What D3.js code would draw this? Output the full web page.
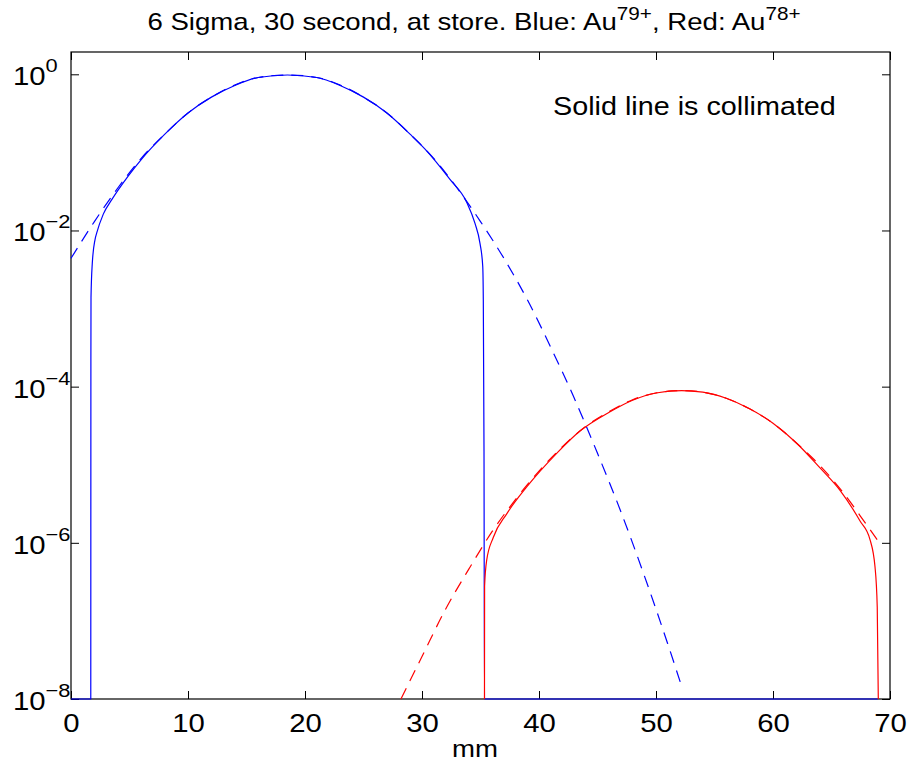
<!DOCTYPE html>
<html>
<head>
<meta charset="utf-8">
<script src="https://cdn.jsdelivr.net/npm/d3@7"></script>
<style>
  body { margin: 0; background: #fff; }
  text { font-family: "Liberation Sans", Arial, Helvetica, sans-serif; fill: #000; }
</style>
</head>
<body>
<script>

// values (x in mm, y on log scale)
var blueSolidX = [0, 1.69, 1.70, 1.71, 1.82, 2.05, 2.2, 2.76, 3.5, 4.9, 6, 8, 10, 12, 14, 16, 18.5, 21, 23, 25, 27, 29, 30.26, 32.39, 33.82, 34.53, 34.96, 35.19, 35.24, 35.30, 35.34, 68.95];
var blueSolidY = [1e-8, 1e-8, 2.2e-4, 1.4e-3, 3.8e-3, 7.6e-3, 9.3e-3, 1.62e-2, 2.5e-2, 5.0e-2, 8.1e-2, 0.17, 0.32, 0.51, 0.72, 0.91, 0.98, 0.91, 0.72, 0.51, 0.32, 0.17, 0.11, 4.5e-2, 2.3e-2, 1.23e-2, 6.8e-3, 3.5e-3, 1.3e-3, 1.5e-5, 1e-8, 1e-8];

var blueDashX = [0, 2, 4, 6, 8, 10, 12, 14, 16, 18.5, 21, 23, 25, 27, 29, 31, 33, 35, 37, 39, 41, 43, 45, 47, 49, 51, 52.1];
var blueDashY = [4.4e-3, 1.3e-2, 3.5e-2, 8.4e-2, 0.17, 0.32, 0.51, 0.73, 0.91, 0.98, 0.91, 0.73, 0.51, 0.32, 0.17, 8.4e-2, 3.5e-2, 1.3e-2, 4.4e-3, 1.3e-3, 3.2e-4, 7.2e-5, 1.4e-5, 2.5e-6, 3.8e-7, 5.1e-8, 1.6e-8];

var redSolidX = [35.34, 35.35, 35.53, 36.09, 37.24, 38.95, 41.51, 43.5, 46, 48, 50, 52.2, 54, 56, 58, 60, 62, 64.02, 65.73, 67.44, 68.29, 68.72, 68.91, 69.0];
var redSolidY = [1e-8, 2.8e-7, 6.0e-7, 1.17e-6, 2.35e-6, 5.2e-6, 1.4e-5, 2.7e-5, 4.7e-5, 6.7e-5, 8.3e-5, 8.9e-5, 8.5e-5, 7.1e-5, 5.2e-5, 3.4e-5, 1.9e-5, 9.1e-6, 4.7e-6, 1.9e-6, 1.1e-6, 4.9e-7, 1.5e-7, 1e-8];

var redDashX = [28.2, 30, 32, 34, 36, 38, 40, 42, 44, 46, 48, 50, 52.2, 54, 56, 58, 60, 62, 64, 66, 68, 68.9];
var redDashY = [1.0e-8, 3.5e-8, 1.4e-7, 4.6e-7, 1.4e-6, 3.6e-6, 8.3e-6, 1.7e-5, 3.1e-5, 4.8e-5, 6.8e-5, 8.3e-5, 8.9e-5, 8.5e-5, 7.1e-5, 5.2e-5, 3.4e-5, 1.9e-5, 9.8e-6, 4.4e-6, 1.7e-6, 1.1e-6];

var xTicks = [0, 10, 20, 30, 40, 50, 60, 70];
var yTickExp = [0, -2, -4, -6, -8];

// canvas
var W = 911, H = 771;
var margin = {top: 52, right: 21, bottom: 72, left: 71};
var width = W - margin.left - margin.right,
    height = H - margin.top - margin.bottom;
var stretch = "scale(1.15,1)";   // text in the picture is a bit wide

var svg = d3.select("body").append("svg")
    .attr("width", W)
    .attr("height", H);

var g = svg.append("g")
    .attr("transform", "translate(" + margin.left + "," + margin.top + ")");

var x = d3.scaleLinear().domain([0, 70]).range([0, width]);
var y = d3.scaleLog().domain([1e-8, 1.93]).range([height, 0]);

// title
var title = svg.append("text")
    .attr("transform", "translate(474,30) " + stretch)
    .attr("text-anchor", "middle")
    .style("font-size", "24px");
title.append("tspan").text("6 Sigma, 30 second, at store. Blue: Au");
title.append("tspan").attr("dy", -10).style("font-size", "18px").text("79+");
title.append("tspan").attr("dy", 10).text(", Red: Au");
title.append("tspan").attr("dy", -10).style("font-size", "18px").text("78+");

// box
g.append("rect")
    .attr("width", width)
    .attr("height", height)
    .attr("fill", "none")
    .attr("stroke", "#000")
    .attr("stroke-width", 1.2);

// x axis bottom, ticks pointing in
g.append("g")
    .attr("class", "axis axis--x")
    .attr("transform", "translate(0," + height + ")")
    .call(d3.axisBottom(x).tickValues(xTicks).tickSize(-8).tickPadding(33).tickFormat(d3.format("d")))
    .call(function(a) { a.select(".domain").remove(); })
    .selectAll("text")
    .style("font-size", "25.5px")
    .attr("dy", "0em")
    .attr("y", 0)
    .attr("transform", "translate(0,33) " + stretch);

g.append("g")
    .call(d3.axisTop(x).tickValues(xTicks).tickSize(-8).tickFormat(""))
    .call(function(a) { a.select(".domain").remove(); });

// y axis, powers of ten
var yVals = yTickExp.map(function(e) { return Math.pow(10, e); });

g.append("g")
    .call(d3.axisLeft(y).tickValues(yVals).tickSize(-8).tickFormat(""))
    .call(function(a) { a.select(".domain").remove(); });

g.append("g")
    .attr("transform", "translate(" + width + ",0)")
    .call(d3.axisRight(y).tickValues(yVals).tickSize(-8).tickFormat(""))
    .call(function(a) { a.select(".domain").remove(); });

g.selectAll(".ylab")
    .data(yTickExp)
    .enter().append("text")
    .attr("class", "ylab")
    .attr("transform", function(d) { return "translate(-58," + (y(Math.pow(10, d)) + 11) + ") " + stretch; })
    .style("font-size", "25.5px")
    .each(function(d) {
      var t = d3.select(this);
      t.append("tspan").text("10");
      t.append("tspan").attr("dy", -13).style("font-size", "19px").text(d < 0 ? "\u2212" + (-d) : d);
    });

// x label
g.append("text")
    .attr("transform", "translate(" + (475 - margin.left) + "," + (height + 58) + ") " + stretch)
    .attr("text-anchor", "middle")
    .style("font-size", "24px")
    .text("mm");

// note
g.append("text")
    .attr("transform", "translate(" + x(41.2) + "," + (y(1) + 41) + ") " + stretch)
    .style("font-size", "25px")
    .text("Solid line is collimated");

// lines
var line = d3.line()
    .x(function(d) { return x(d[0]); })
    .y(function(d) { return y(d[1]); })
    .curve(d3.curveMonotoneX);

function pairs(xs, ys) { return xs.map(function(v, i) { return [v, ys[i]]; }); }

var series = [
  {x: blueSolidX, y: blueSolidY, color: "#0000ff", dash: null},
  {x: blueDashX, y: blueDashY, color: "#0000ff", dash: "12,8"},
  {x: redDashX, y: redDashY, color: "#ff0000", dash: "12,8"},
  {x: redSolidX, y: redSolidY, color: "#ff0000", dash: null}
];

g.selectAll(".series")
    .data(series)
    .enter().append("path")
    .attr("class", "series")
    .attr("fill", "none")
    .attr("stroke", function(d) { return d.color; })
    .attr("stroke-width", 1.2)
    .attr("stroke-dasharray", function(d) { return d.dash; })
    .attr("d", function(d) { return line(pairs(d.x, d.y)); });

</script>
</body>
</html>
